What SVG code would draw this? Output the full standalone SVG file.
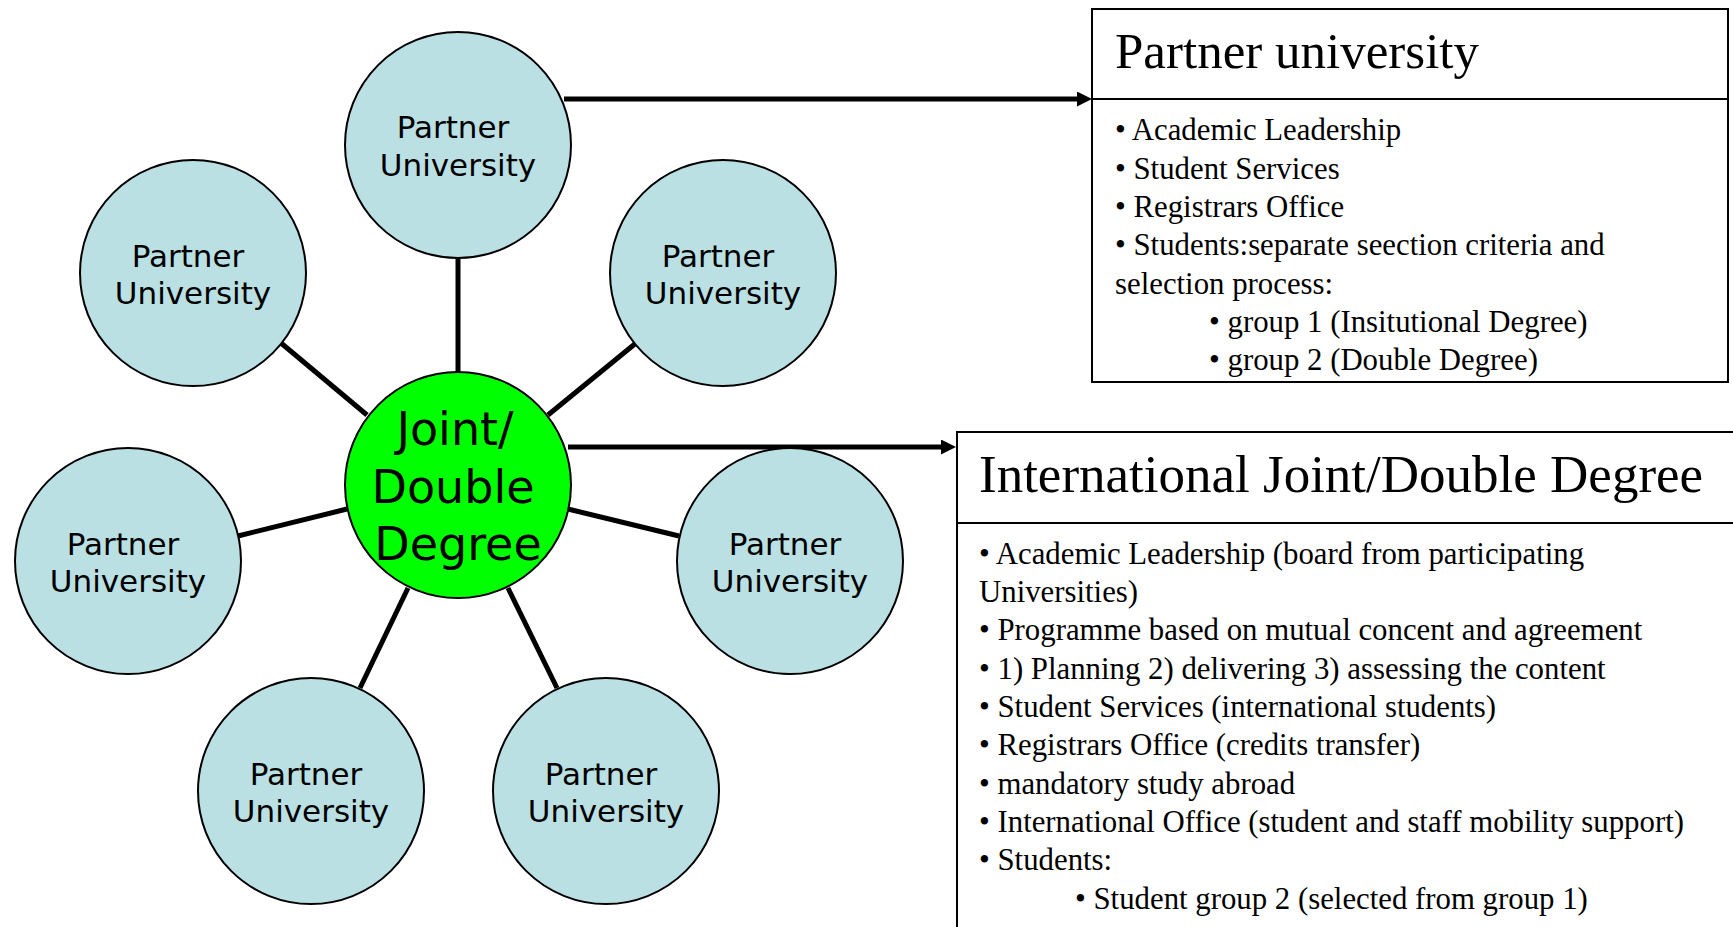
<svg xmlns="http://www.w3.org/2000/svg" width="1733" height="927" viewBox="0 0 1733 927">
<style>
.pu{fill:#BAE0E3;stroke:#000;stroke-width:2}
.ctr{fill:#00FF00;stroke:#000;stroke-width:2}
.lbl{font-family:"DejaVu Sans",Verdana,sans-serif;font-size:31px;fill:#000;text-anchor:middle}
.clbl{font-family:"DejaVu Sans",Verdana,sans-serif;font-size:46px;fill:#000;text-anchor:middle}
.spoke{stroke:#000;stroke-width:5;fill:none}
.arr{stroke:#000;stroke-width:5;fill:none}
.box{fill:#fff;stroke:#000;stroke-width:2}
.ttl{font-family:"Liberation Serif","Times New Roman",serif;fill:#000}
.body{font-family:"Liberation Serif","Times New Roman",serif;font-size:30.8px;fill:#000}
</style>
<defs>
<marker id="ah" markerUnits="userSpaceOnUse" markerWidth="16" markerHeight="16" refX="5" refY="7.5" orient="auto">
<path d="M0,0 L15,7.5 L0,15 Z" fill="#000"/>
</marker>
</defs>
<rect width="1733" height="927" fill="#fff"/>
<g id="connectors">
<line class="spoke" x1="458" y1="258" x2="458" y2="372"/>
<line class="spoke" x1="281" y1="343" x2="367" y2="415"/>
<line class="spoke" x1="636" y1="343" x2="548" y2="415"/>
<line class="spoke" x1="238" y1="536" x2="347" y2="509"/>
<line class="spoke" x1="568" y1="509" x2="679" y2="536"/>
<line class="spoke" x1="408" y1="588" x2="360" y2="688"/>
<line class="spoke" x1="508" y1="588" x2="557" y2="688"/>
<line class="arr" x1="564" y1="99" x2="1082" y2="99" marker-end="url(#ah)"/>
<line class="arr" x1="568" y1="447" x2="946" y2="447" marker-end="url(#ah)"/>
</g>
<g id="pu-top">
<circle class="pu" cx="458" cy="145" r="113"/>
<text class="lbl" x="453" y="138">Partner</text>
<text class="lbl" x="458" y="176">University</text>
</g>
<g id="pu-upper-left">
<circle class="pu" cx="193" cy="273" r="113"/>
<text class="lbl" x="188" y="267">Partner</text>
<text class="lbl" x="193" y="304">University</text>
</g>
<g id="pu-upper-right">
<circle class="pu" cx="723" cy="273" r="113"/>
<text class="lbl" x="718" y="267">Partner</text>
<text class="lbl" x="723" y="304">University</text>
</g>
<g id="pu-mid-left">
<circle class="pu" cx="128" cy="561" r="113"/>
<text class="lbl" x="123" y="555">Partner</text>
<text class="lbl" x="128" y="592">University</text>
</g>
<g id="pu-mid-right">
<circle class="pu" cx="790" cy="561" r="113"/>
<text class="lbl" x="785" y="555">Partner</text>
<text class="lbl" x="790" y="592">University</text>
</g>
<g id="pu-bottom-left">
<circle class="pu" cx="311" cy="791" r="113"/>
<text class="lbl" x="306" y="785">Partner</text>
<text class="lbl" x="311" y="822">University</text>
</g>
<g id="pu-bottom-right">
<circle class="pu" cx="606" cy="791" r="113"/>
<text class="lbl" x="601" y="785">Partner</text>
<text class="lbl" x="606" y="822">University</text>
</g>
<g id="center">
<circle class="ctr" cx="458" cy="485" r="113"/>
<text class="clbl" x="455" y="445">Joint/</text>
<text class="clbl" x="453" y="503">Double</text>
<text class="clbl" x="458" y="560">Degree</text>
</g>
<g id="box-partner">
<rect class="box" x="1092" y="9" width="636" height="373"/>
<line x1="1092" y1="99" x2="1728" y2="99" stroke="#000" stroke-width="2"/>
<text class="ttl" x="1115" y="68" font-size="51">Partner university</text>
<text class="body" x="1115" y="140">• Academic Leadership</text>
<text class="body" x="1115" y="179">• Student Services</text>
<text class="body" x="1115" y="217">• Registrars Office</text>
<text class="body" x="1115" y="255">• Students:separate seection criteria and</text>
<text class="body" x="1115" y="294">selection process:</text>
<text class="body" x="1209" y="332">• group 1 (Insitutional Degree)</text>
<text class="body" x="1209" y="370">• group 2 (Double Degree)</text>
</g>
<g id="box-joint">
<rect class="box" x="957" y="432" width="800" height="520"/>
<line x1="957" y1="523" x2="1740" y2="523" stroke="#000" stroke-width="2"/>
<text class="ttl" x="979" y="492" font-size="53">International Joint/Double Degree</text>
<text class="body" x="979" y="564">• Academic Leadership (board from participating</text>
<text class="body" x="979" y="602">Universities)</text>
<text class="body" x="979" y="640">• Programme based on mutual concent and agreement</text>
<text class="body" x="979" y="679">• 1) Planning 2) delivering 3) assessing the content</text>
<text class="body" x="979" y="717">• Student Services (international students)</text>
<text class="body" x="979" y="755">• Registrars Office (credits transfer)</text>
<text class="body" x="979" y="794">• mandatory study abroad</text>
<text class="body" x="979" y="832">• International Office (student and staff mobility support)</text>
<text class="body" x="979" y="870">• Students:</text>
<text class="body" x="1075" y="909">• Student group 2 (selected from group 1)</text>
</g>
</svg>
